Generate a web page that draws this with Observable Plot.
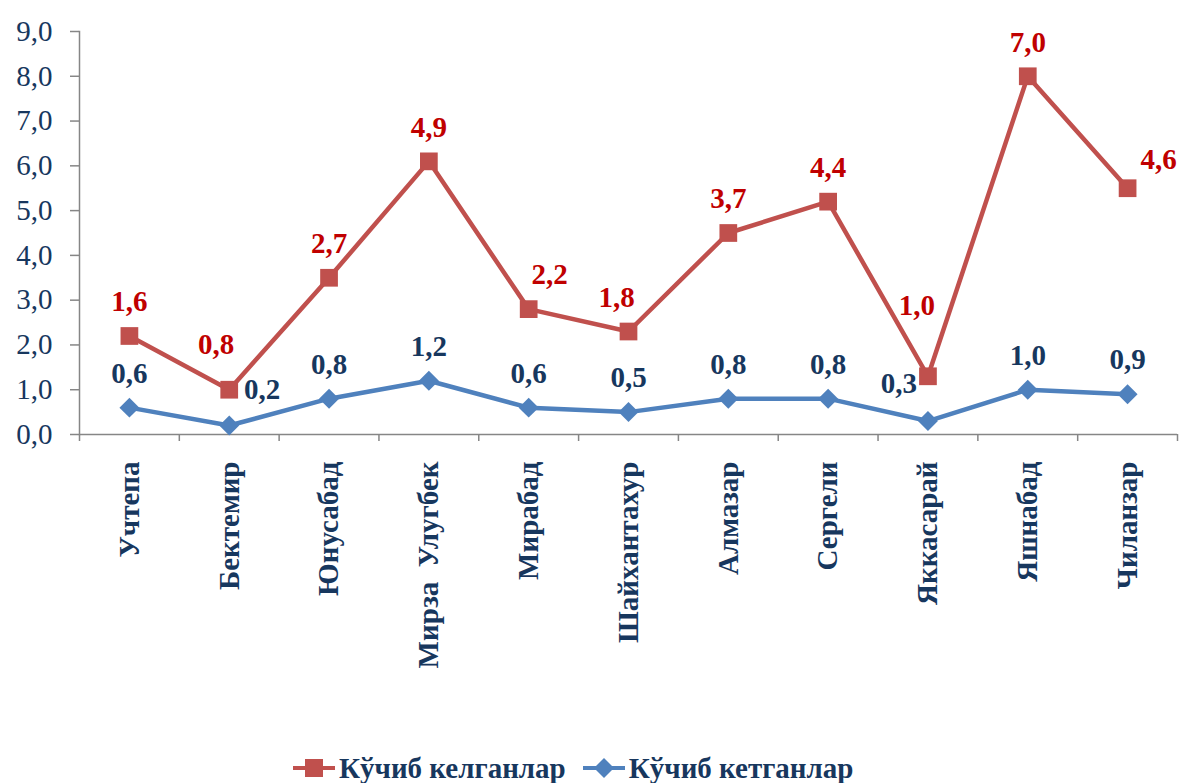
<!DOCTYPE html>
<html>
<head>
<meta charset="utf-8">
<script src="https://cdn.jsdelivr.net/npm/d3@7"></script>
<script src="https://cdn.jsdelivr.net/npm/@observablehq/plot@0.6"></script>
</head>
<body style="margin:0;padding:0;background:#fff;font-family:'Liberation Serif','DejaVu Serif','Times New Roman',serif">
<div id="chart"></div>
<div id="legend" style="display:flex;align-items:center;height:66px;padding-left:292px;font-family:'Liberation Serif','DejaVu Serif','Times New Roman',serif;font-weight:bold;font-size:29px;color:#17375E;">
  <div style="display:flex;align-items:center;margin-right:16px;">
    <svg width="44" height="24" style="display:block;margin-right:3px"><line x1="1" x2="43" y1="12" y2="12" stroke="#C0504D" stroke-width="4"/><rect x="13" y="3" width="18" height="18" fill="#C0504D"/></svg>
    <span>Кўчиб келганлар</span>
  </div>
  <div style="display:flex;align-items:center;">
    <svg width="44" height="24" style="display:block;margin-right:3px"><line x1="1" x2="43" y1="12" y2="12" stroke="#4F81BD" stroke-width="4"/><path d="M22,2 L32,12 L22,22 L12,12 Z" fill="#4F81BD"/></svg>
    <span>Кўчиб кетганлар</span>
  </div>
</div>
<script>
// ---- data ----
const categories = ["Учтепа", "Бектемир", "Юнусабад", "Мирза \u00A0Улугбек", "Мирабад", "Шайхантахур", "Алмазар", "Сергели", "Яккасарай", "Яшнабад", "Чиланзар"];
const arrivals   = [1.6, 0.8, 2.7, 4.9, 2.2, 1.8, 3.7, 4.4, 1.0, 7.0, 4.6]; // Кўчиб келганлар
const departures = [0.6, 0.2, 0.8, 1.2, 0.6, 0.5, 0.8, 0.8, 0.3, 1.0, 0.9]; // Кўчиб кетганлар
const yTicks = [0, 1, 2, 3, 4, 5, 6, 7, 8, 9];

// ---- layout (label placement offsets, px) ----
const defaultOffset = [0, -34];
const redOffsets  = {1: [-13, -45], 4: [21, -34], 5: [-12, -34], 8: [-11, -71], 10: [31, -29]};
const blueOffsets = {1: [33, -36], 8: [-29, -37]};

const fmt = d => d.toFixed(1).replace(".", ",");
const RED = "#C0504D", BLUE = "#4F81BD", NAVY = "#17375E", RED_TXT = "#C00000", GRAY = "#868686";
const FONT = "'Liberation Serif', 'DejaVu Serif', 'Times New Roman', serif";

// stacked line chart: red series sits on top of blue series
const rows = categories.map((c, i) => ({
  i, name: c, arr: arrivals[i], dep: departures[i], top: departures[i] + arrivals[i]
}));

function labelMarks(yKey, valKey, offsets, color) {
  const groups = new Map();
  rows.forEach(r => {
    const off = offsets[r.i] || defaultOffset;
    const k = off.join(",");
    if (!groups.has(k)) groups.set(k, {off, data: []});
    groups.get(k).data.push(r);
  });
  return [...groups.values()].map(g => Plot.text(g.data, {
    x: "i", y: yKey, text: d => fmt(d[valKey]), dx: g.off[0], dy: g.off[1],
    fill: color, fontWeight: "bold", fontSize: 29, fontFamily: FONT, lineAnchor: "middle", textAnchor: "middle"
  }));
}

const boundaries = d3.range(-0.5, categories.length, 1);

const chart = Plot.plot({
  width: 1184,
  height: 735,
  marginLeft: 79,
  marginRight: 7,
  marginTop: 31,
  marginBottom: 301,
  style: { fontFamily: FONT, background: "#fff", overflow: "visible" },
  x: { type: "linear", domain: [-0.5, categories.length - 0.5] },
  y: { domain: [0, 9] },
  marks: [
    Plot.frame({ anchor: "left", stroke: GRAY, strokeWidth: 1.5 }),
    Plot.ruleY([0], { stroke: GRAY, strokeWidth: 1.5 }),
    Plot.axisY({ ticks: yTicks, tickFormat: fmt, tickSize: 9, stroke: GRAY, strokeWidth: 1.5,
      tickPadding: 18, fontSize: 29, fontFamily: FONT, fill: NAVY, label: null }),
    Plot.axisX({ ticks: boundaries, tickFormat: () => "", tickSize: 7, stroke: GRAY, strokeWidth: 1.5, label: null }),
    Plot.axisX({ ticks: d3.range(categories.length), tickFormat: i => categories[i], tickSize: 0,
      tickRotate: -90, tickPadding: 27, fontSize: 29, fontFamily: FONT, fontWeight: "bold", fill: NAVY, label: null }),
    Plot.line(rows, { x: "i", y: "dep", stroke: BLUE, strokeWidth: 4.5 }),
    Plot.line(rows, { x: "i", y: "top", stroke: RED, strokeWidth: 4.5 }),
    Plot.dot(rows, { x: "i", y: "dep", symbol: "diamond2", r: 9, fill: BLUE, stroke: "none" }),
    Plot.dot(rows, { x: "i", y: "top", symbol: "square", r: 10, fill: RED, stroke: "none" }),
    ...labelMarks("dep", "dep", blueOffsets, NAVY),
    ...labelMarks("top", "arr", redOffsets, RED_TXT)
  ]
});
chart.setAttribute("font-family", "Liberation Serif");
document.getElementById("chart").appendChild(chart);
</script>
</body>
</html>
